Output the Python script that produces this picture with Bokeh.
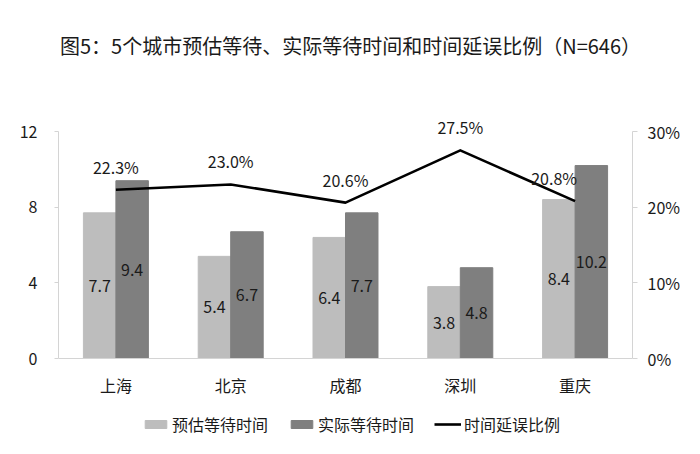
from bokeh.plotting import figure
from bokeh.models import (ColumnDataSource, FactorRange, Range1d, LinearAxis, FixedTicker,
                          NumeralTickFormatter, Legend, LegendItem, Label, LabelSet)
from bokeh.transform import dodge
from bokeh.embed import file_html
from bokeh.resources import INLINE
from bokeh.core.properties import value

# ---- data ----
cities = ["上海", "北京", "成都", "深圳", "重庆"]
est_wait = [7.7, 5.4, 6.4, 3.8, 8.4]        # 预估等待时间
act_wait = [9.4, 6.7, 7.7, 4.8, 10.2]       # 实际等待时间
delay_pct = [22.3, 23.0, 20.6, 27.5, 20.8]  # 时间延误比例 (%)
left_ticks = [0, 4, 8, 12]
right_ticks = [0, 0.1, 0.2, 0.3]
title_text = "图5：5个城市预估等待、实际等待时间和时间延误比例（N=646）"

FONT = "Noto Sans CJK SC"
LIGHT = "#bdbdbd"
DARK = "#7f7f7f"
TXT = "#1a1a1a"
AX = "#d4d4d4"
BW = 0.283
OFF = 0.1415

W, H = 684, 438
FRAME_L, FRAME_R = 58, 632     # frame edges in pixels
ZERO_PX, TOP_PX = 358, 131     # pixel rows of 0 and of 12 / 30%
PX_PER = (ZERO_PX - TOP_PX)    # pixels spanned by the axis
lo = -(H - ZERO_PX) / PX_PER   # fraction of axis span below zero
hi = ZERO_PX / PX_PER          # fraction of axis span above zero

src = ColumnDataSource(dict(
    city=cities,
    est=est_wait,
    act=act_wait,
    est_mid=[v / 2 for v in est_wait],
    act_mid=[v / 2 for v in act_wait],
    est_lbl=[f"{v:.1f}" for v in est_wait],
    act_lbl=[f"{v:.1f}" for v in act_wait],
    delay=[d / 100 for d in delay_pct],
    delay_lbl=[f"{d:.1f}%" for d in delay_pct],
    dx=[0, 0, 0, 0, -21],
))

p = figure(width=W, height=H,
           x_range=FactorRange(*cities, range_padding=0),
           y_range=Range1d(12 * lo, 12 * hi),
           output_backend="svg", toolbar_location=None,
           min_border_left=FRAME_L, min_border_right=W - FRAME_R,
           min_border_top=0, min_border_bottom=0)
p.extra_y_ranges = {"pct": Range1d(0.3 * lo, 0.3 * hi)}

r_est = p.vbar(x=dodge("city", -OFF, range=p.x_range), top="est", bottom=0, width=BW,
               source=src, fill_color=LIGHT, line_color=LIGHT)
r_act = p.vbar(x=dodge("city", OFF, range=p.x_range), top="act", bottom=0, width=BW,
               source=src, fill_color=DARK, line_color=DARK)
r_line = p.line(x="city", y="delay", y_range_name="pct", source=src,
                line_color="black", line_width=2.6, line_join="round")

p.text(x=dodge("city", -OFF, range=p.x_range), y="est_mid", text="est_lbl", source=src,
       text_align="center", text_baseline="middle", text_font=value(FONT),
       text_font_size="16px", text_color=TXT)
p.text(x=dodge("city", OFF, range=p.x_range), y="act_mid", text="act_lbl", source=src,
       text_align="center", text_baseline="middle", text_font=value(FONT),
       text_font_size="16px", text_color=TXT)

labels = LabelSet(x="city", y="delay", y_range_name="pct", text="delay_lbl", source=src,
                  x_offset="dx", y_offset=23, text_align="center", text_baseline="middle",
                  text_font=value(FONT), text_font_size="16px", text_color=TXT)
p.add_layout(labels)

# axes
p.xgrid.visible = False
p.ygrid.visible = False
p.outline_line_color = None

p.yaxis.ticker = FixedTicker(ticks=left_ticks)
p.yaxis.bounds = (0, 12)
p.yaxis.axis_line_color = AX
p.yaxis.major_tick_line_color = AX
p.yaxis.major_tick_out = 4
p.yaxis.major_tick_in = 0
p.yaxis.minor_tick_line_color = None
p.yaxis.major_label_text_font = FONT
p.yaxis.major_label_text_font_size = "16px"
p.yaxis.major_label_text_color = TXT
p.yaxis.major_label_standoff = 17

ax_r = LinearAxis(y_range_name="pct", ticker=FixedTicker(ticks=right_ticks),
                  formatter=NumeralTickFormatter(format="0%"), bounds=(0, 0.3))
ax_r.axis_line_color = AX
ax_r.major_tick_line_color = AX
ax_r.major_tick_out = 5
ax_r.major_tick_in = 0
ax_r.minor_tick_line_color = None
ax_r.major_label_text_font = FONT
ax_r.major_label_text_font_size = "16px"
ax_r.major_label_text_color = TXT
ax_r.major_label_standoff = 10
p.add_layout(ax_r, "right")

p.xaxis.fixed_location = 0
p.xaxis.axis_line_color = AX
p.xaxis.major_tick_line_color = None
p.xaxis.major_label_text_font = FONT
p.xaxis.major_label_text_font_size = "16px"
p.xaxis.major_label_text_color = TXT
p.xaxis.major_label_standoff = 8

legend = Legend(items=[LegendItem(label="预估等待时间", renderers=[r_est]),
                       LegendItem(label="实际等待时间", renderers=[r_act]),
                       LegendItem(label="时间延误比例", renderers=[r_line])],
                orientation="horizontal", location=(84, 2),
                glyph_width=27, glyph_height=10, label_standoff=3, spacing=20,
                padding=0, margin=0, border_line_color=None, background_fill_alpha=0,
                label_text_font=FONT, label_text_font_size="16px", label_text_color=TXT)
p.add_layout(legend)

title = Label(x=(FRAME_R - FRAME_L) / 2 + 5, y=H - 45, x_units="screen", y_units="screen",
              text=title_text, text_align="center", text_baseline="middle", text_font=FONT,
              text_font_size="20px", text_color=TXT)
p.add_layout(title)

open("out.html", "w").write(file_html(p, INLINE))
